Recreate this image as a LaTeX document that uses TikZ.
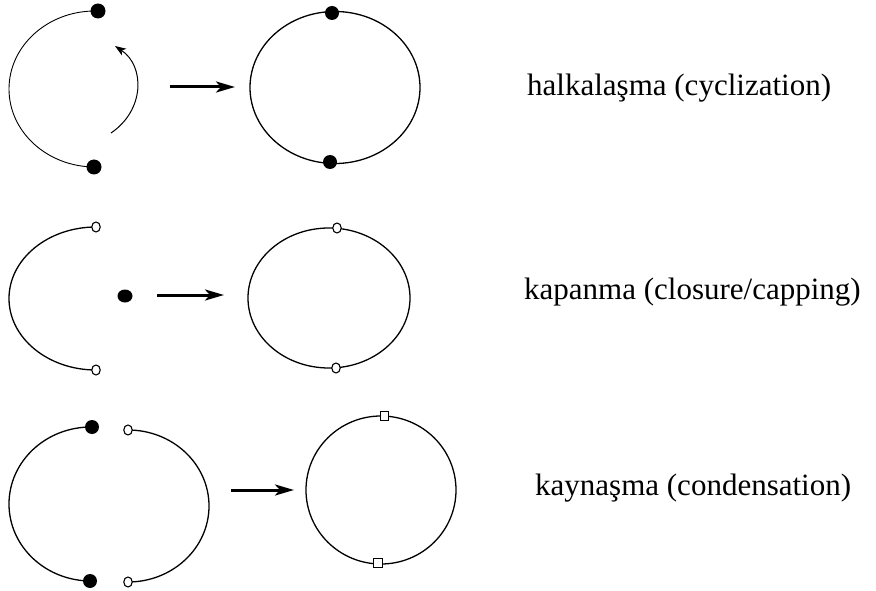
\documentclass[tikz,border=0pt]{standalone}
\usepackage{fontspec}
\setmainfont{Liberation Serif}
\usetikzlibrary{arrows.meta,shapes.geometric}

\tikzset{
  chain/.style={line width=1.3pt},
  thinchain/.style={line width=0.9pt},
  bead/.style={circle,fill=black,inner sep=0pt,minimum size=14pt},
  ring/.style={ellipse,draw=black,fill=white,line width=1.1pt,inner sep=0pt,minimum width=8.5pt,minimum height=10pt},
  joint/.style={rectangle,draw=black,fill=white,line width=1.1pt,inner sep=0pt,minimum width=8.5pt,minimum height=9.5pt},
  loop/.style={ellipse,draw=black,line width=1.3pt,inner sep=0pt},
  react/.style={line width=3pt,-{Stealth[length=19pt,width=11pt,inset=5pt]}},
  label/.style={anchor=base west,font=\fontsize{31}{36}\selectfont,inner sep=0pt}
}

\begin{document}
\begin{tikzpicture}[x=1pt,y=-1pt]
\useasboundingbox (0,0) rectangle (876,591);

% ---- cyclization ----
\coordinate (c1top) at (95,11);
\draw[thinchain] (c1top) arc[start angle=270,end angle=90,x radius=86,y radius=78];
\node[bead,minimum size=15pt] (d1a) at (98,11) {};
\node[bead,minimum size=15pt] (d1b) at (94,167) {};
\coordinate (bendS) at (111,133);
\coordinate (bendE) at (115,46);
\draw[line width=1pt,-{Stealth[length=11pt,width=8pt,inset=3pt]}]
  (bendS) .. controls (145,110) and (145,66) .. (bendE);
\coordinate (a1s) at (170,87);
\coordinate (a1e) at (235,87);
\draw[react] (a1s) -- (a1e);
\node[loop,minimum width=170pt,minimum height=152pt] (r1) at (335,87.5) {};
\node[bead] (d1c) at (332,13) {};
\node[bead] (d1d) at (330,162) {};
\node[label] (t1) at (527,96) {halkalaşma (cyclization)};

% ---- closure / capping ----
\coordinate (c2top) at (96,227);
\draw[chain] (c2top) arc[start angle=270,end angle=90,x radius=87,y radius=71.5];
\node[ring] (o2a) at (96,227) {};
\node[ring] (o2b) at (96,370) {};
\node[ellipse,fill=black,inner sep=0pt,minimum width=15pt,minimum height=13pt] (cap) at (125,296) {};
\coordinate (a2s) at (157,295);
\coordinate (a2e) at (224,295);
\draw[react] (a2s) -- (a2e);
\node[loop,minimum width=162pt,minimum height=140pt] (r2) at (329,298) {};
\node[ring] (o2c) at (337,228) {};
\node[ring] (o2d) at (336,368) {};
\node[label] (t2) at (524,299) {kapanma (closure/capping)};

% ---- condensation ----
\coordinate (c3top) at (91,427);
\draw[chain] (c3top) arc[start angle=270,end angle=90,x radius=82,y radius=77];
\coordinate (c3rt) at (128,430);
\draw[chain] (c3rt) arc[start angle=-90,end angle=90,x radius=81,y radius=76];
\node[bead] (d3a) at (92,427) {};
\node[bead] (d3b) at (90,581) {};
\node[ring] (o3a) at (128,430) {};
\node[ring] (o3b) at (128,582) {};
\coordinate (a3s) at (231,490);
\coordinate (a3e) at (294,490);
\draw[react] (a3s) -- (a3e);
\node[loop,minimum width=150pt,minimum height=148pt] (r3) at (381,490) {};
\node[joint] (q3a) at (384.5,416) {};
\node[joint] (q3b) at (378,563) {};
\node[label] (t3) at (535,495) {kaynaşma (condensation)};
\end{tikzpicture}
\end{document}
